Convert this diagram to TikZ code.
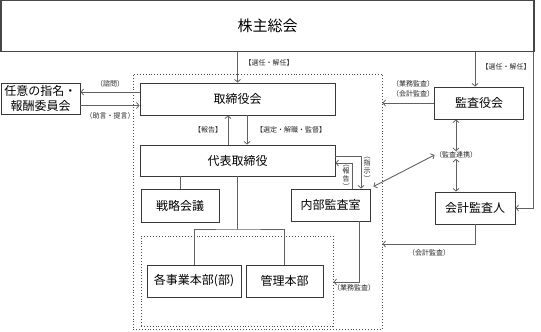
\documentclass[tikz,border=0pt]{standalone}
\usepackage{fontspec}
\setmainfont{Noto Sans CJK JP}
\usetikzlibrary{arrows.meta}
\begin{document}
\begin{tikzpicture}[x=1pt,y=-1pt,
  box/.style={draw=black!78, line width=0.9pt, fill=white, inner sep=0pt, align=center,
    font=\fontsize{12}{15}\selectfont},
  lbl/.style={font=\fontsize{7}{7.6}\selectfont, inner sep=0.3pt, align=center, text=black!85},
  conn/.style={draw=black!62, line width=0.9pt},
  arr/.style={conn, -{Straight Barb[length=2.6pt,width=6pt,line width=0.8pt]}},
  dbl/.style={conn, {Straight Barb[length=2.6pt,width=6pt,line width=0.8pt]}-{Straight Barb[length=2.6pt,width=6pt,line width=0.8pt]}},
  dotbox/.style={draw=black!70, dotted, line width=0.9pt, inner sep=0pt}]
\useasboundingbox (0,0) rectangle (541,332);
% dotted frames
\node[dotbox, minimum width=249, minimum height=255] (outer) at (257.5,201.5) {};
\node[dotbox, minimum width=192, minimum height=90] (inner) at (237,281) {};
% boxes
\node[box, minimum width=533, minimum height=51, font=\fontsize{15}{18}\selectfont, draw=black!72, line width=1.3pt] (top) at (267.5,26) {株主総会};
\node[box, minimum width=79, minimum height=31] (nin) at (40.5,98.5) {任意の指名・\\報酬委員会};
\node[box, minimum width=195, minimum height=32] (tori) at (237.5,99) {取締役会};
\node[box, minimum width=195, minimum height=31] (dai) at (237.5,160.5) {代表取締役};
\node[box, minimum width=78, minimum height=33] (sen) at (180,205.5) {戦略会議};
\node[box, minimum width=79, minimum height=32] (nai) at (330.5,205) {内部監査室};
\node[box, minimum width=94, minimum height=32] (kaku) at (194,281) {各事業本部(部)};
\node[box, minimum width=77, minimum height=32] (kanri) at (284.5,281) {管理本部};
\node[box, minimum width=89, minimum height=32] (kansa) at (479,103) {監査役会};
\node[box, minimum width=80, minimum height=32] (kaikei) at (475,208) {会計監査人};
% labels
\node[lbl] (l1) at (269,63) {【選任・解任】};
\node[lbl] (l2) at (110,84) {（諮問）};
\node[lbl] (l3) at (110,116) {（助言・提言）};
\node[lbl] (l4) at (208,130) {【報告】};
\node[lbl] (l5) at (291,130) {【選定・解職・監督】};
\node[lbl] (l6) at (367,169) {︵\\指\\示\\︶};
\node[lbl] (l7) at (346,177) {︵\\報\\告\\︶};
\node[lbl] (l8) at (354,288) {（業務監査）};
\node[lbl] (l9) at (413,84) {（業務監査）};
\node[lbl] (l10) at (413,93.5) {（会計監査）};
\node[lbl] (l11) at (506,67) {【選任・解任】};
\node[lbl] (renkei) at (456,155) {（監査連携）};
\node[lbl] (l12) at (429,253) {（会計監査）};
% connectors
\draw[arr] (top.south -| tori.north) -- (tori.north);
\draw[arr] ([yshift=7pt]tori.west) -- ([yshift=7pt]tori.west -| nin.east);
\draw[arr] ([yshift=-7pt]nin.east) -- ([yshift=-7pt]nin.east -| tori.west);
\draw[arr] (dai.north -| 228,0) -- (tori.south -| 228,0);
\draw[arr] (tori.south -| 247,0) -- (dai.north -| 247,0);
\draw[conn] (dai.south -| sen.north) -- (sen.north);
\coordinate (br) at (237,229);
\draw[conn] (dai.south -| br) -- (br);
\draw[conn] (kaku.north) |- (br) -| (kanri.north);
\draw[arr] ([yshift=4.5pt]dai.east) -| (nai.north -| 361,0);
\draw[arr] (nai.north -| 352,0) |- ([yshift=-2.5pt]dai.east);
\draw[arr] (nai.south -| 359,0) |- (inner.east |- 0,282);
\draw[arr] (kansa.west) -- (kansa.west -| outer.east);
\draw[arr] (top.south -| 475,0) -- (kansa.north -| 475,0);
\draw[dbl] (kansa.south -| renkei.north) -- (renkei.north);
\draw[dbl] (renkei.south) -- (renkei.south |- kaikei.north);
\draw[dbl] ([shift={(3pt,2pt)}]nai.north east) -- (renkei.west);
\draw[arr] ([xshift=-1pt]top.south east) |- (kaikei.east);
\draw[arr] (kaikei.south) |- (outer.east |- 0,244);
\end{tikzpicture}
\end{document}
